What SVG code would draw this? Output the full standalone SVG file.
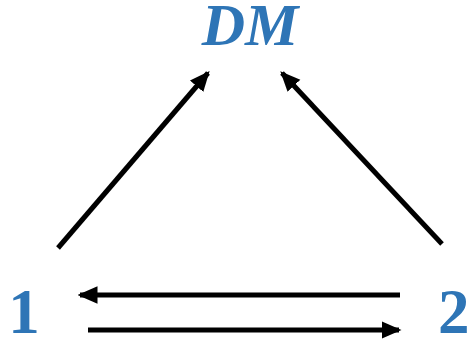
<svg xmlns="http://www.w3.org/2000/svg" width="467" height="340" viewBox="0 0 467 340">
<style>
.lbl{font-family:"Liberation Serif","DejaVu Serif",serif;font-weight:bold;fill:#2E75B6}
.c{stroke:#000;stroke-width:5;fill:none;marker-end:url(#ah)}
</style>
<defs>
<marker id="ah" markerUnits="userSpaceOnUse" markerWidth="20" markerHeight="20" viewBox="0 0 16 16" refX="14" refY="8" orient="auto">
<path d="M0,1 L16,8 L0,15 Z" fill="#000"/>
</marker>
</defs>
<rect width="467" height="340" fill="#fff"/>
<g id="node-DM"><text class="lbl" x="250" y="45" font-size="60" font-style="italic" text-anchor="middle">DM</text></g>
<g id="node-1"><text class="lbl" x="24" y="333" font-size="63" text-anchor="middle">1</text></g>
<g id="node-2"><text class="lbl" x="438" y="333" font-size="63">2</text></g>
<g id="connectors">
<line class="c" x1="58" y1="248" x2="208" y2="73"/>
<line class="c" x1="442" y1="244" x2="282" y2="73"/>
<line class="c" x1="400" y1="295" x2="80" y2="295"/>
<line class="c" x1="88" y1="330" x2="399" y2="330"/>
</g>
</svg>
